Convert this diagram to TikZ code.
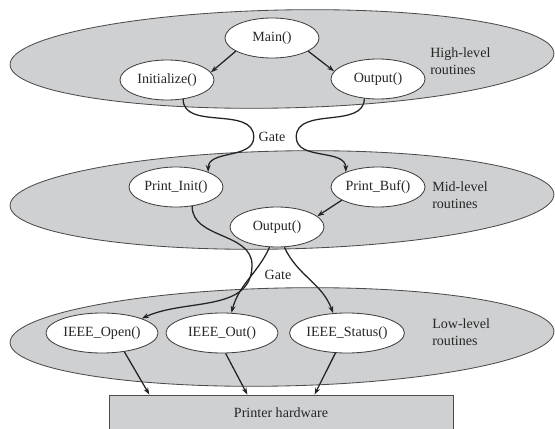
\documentclass[tikz,border=0pt]{standalone}
\usepackage{fontspec}
\setmainfont{Liberation Serif}
\usetikzlibrary{shapes.geometric,arrows.meta}
\definecolor{layerfill}{RGB}{207,208,210}
\definecolor{inkline}{RGB}{35,35,35}

\begin{document}
\begin{tikzpicture}[x=0.025cm,y=0.025cm,
  layer/.style={draw=black!70,fill=layerfill,line width=0.6pt},
  routine/.style={ellipse,draw=black!75,fill=white,line width=0.6pt,
    minimum width=2.35cm,minimum height=1cm,inner sep=0pt,text=black!85},
  ieee/.style={routine,minimum width=2.8cm},
  lbl/.style={anchor=west,align=left,inner sep=0pt,text=black!85},
  call/.style={->,>={Stealth[length=5pt,width=3.5pt]},line width=0.9pt,draw=inkline}]
\useasboundingbox (0,0) rectangle (555,429);

% the three layers
\draw[layer,rotate around={1.2:(282,370)}] (282,370) ellipse (272 and 49);
\draw[layer,rotate around={1.2:(282,229)}] (282,229) ellipse (272 and 49);
\draw[layer,rotate around={1.2:(282,92)}] (282,92) ellipse (272 and 49);

\node[lbl] (hilbl) at (430,368) {High-level\\routines};
\node[lbl] (midlbl) at (432,234) {Mid-level\\routines};
\node[lbl] (lowlbl) at (432,97) {Low-level\\routines};

% routines
\node[routine] (main) at (272,391) {Main()};
\node[routine] (init) at (167,349) {Initialize()};
\node[routine] (outhi) at (378,350) {Output()};

\node[routine] (pinit) at (176,242) {Print\_Init()};
\node[routine] (pbuf) at (378,242) {Print\_Buf()};
\node[routine] (outmid) at (277,202) {Output()};

\node[ieee] (iopen) at (102,96) {IEEE\_Open()};
\node[ieee] (iout) at (222,96) {IEEE\_Out()};
\node[ieee] (istat) at (347,96) {IEEE\_Status()};

\node[draw=black!70,fill=layerfill,line width=0.6pt,minimum width=8.6cm,
  minimum height=0.9cm,text=black!85] (printer) at (281,16) {Printer hardware};

\node[text=black!85] (gate1) at (272,292) {Gate};
\node[text=black!85] (gate2) at (278,154) {Gate};
\coordinate (bend) at (252,164);

% calls
\draw[call] (main.200) -- (init.10);
\draw[call] (main.-20) -- (outhi.170);
\draw[call] (init.-50) to[out=-90,in=90] (gate1.west) to[out=-90,in=90] (pinit.25);
\draw[call] (outhi.-125) to[out=-90,in=90] ([xshift=0.15cm]gate1.east) to[out=-90,in=90] (pbuf.155);
\draw[call] (pbuf.-160) -- (outmid.15);
\draw[call] (pinit.-50) to[out=-90,in=90] (bend) to[out=-90,in=25] (iopen.20);
\draw[call] (outmid.-110) to[out=-115,in=75] (iout.65);
\draw[call] (outmid.-70) to[out=-65,in=110] (istat.125);
\draw[call] (iopen.-40) -- ([xshift=1.02cm]printer.north west);
\draw[call] (iout.-80) -- ([xshift=3.47cm]printer.north west);
\draw[call] (istat.-120) -- ([xshift=5.15cm]printer.north west);
\end{tikzpicture}
\end{document}
